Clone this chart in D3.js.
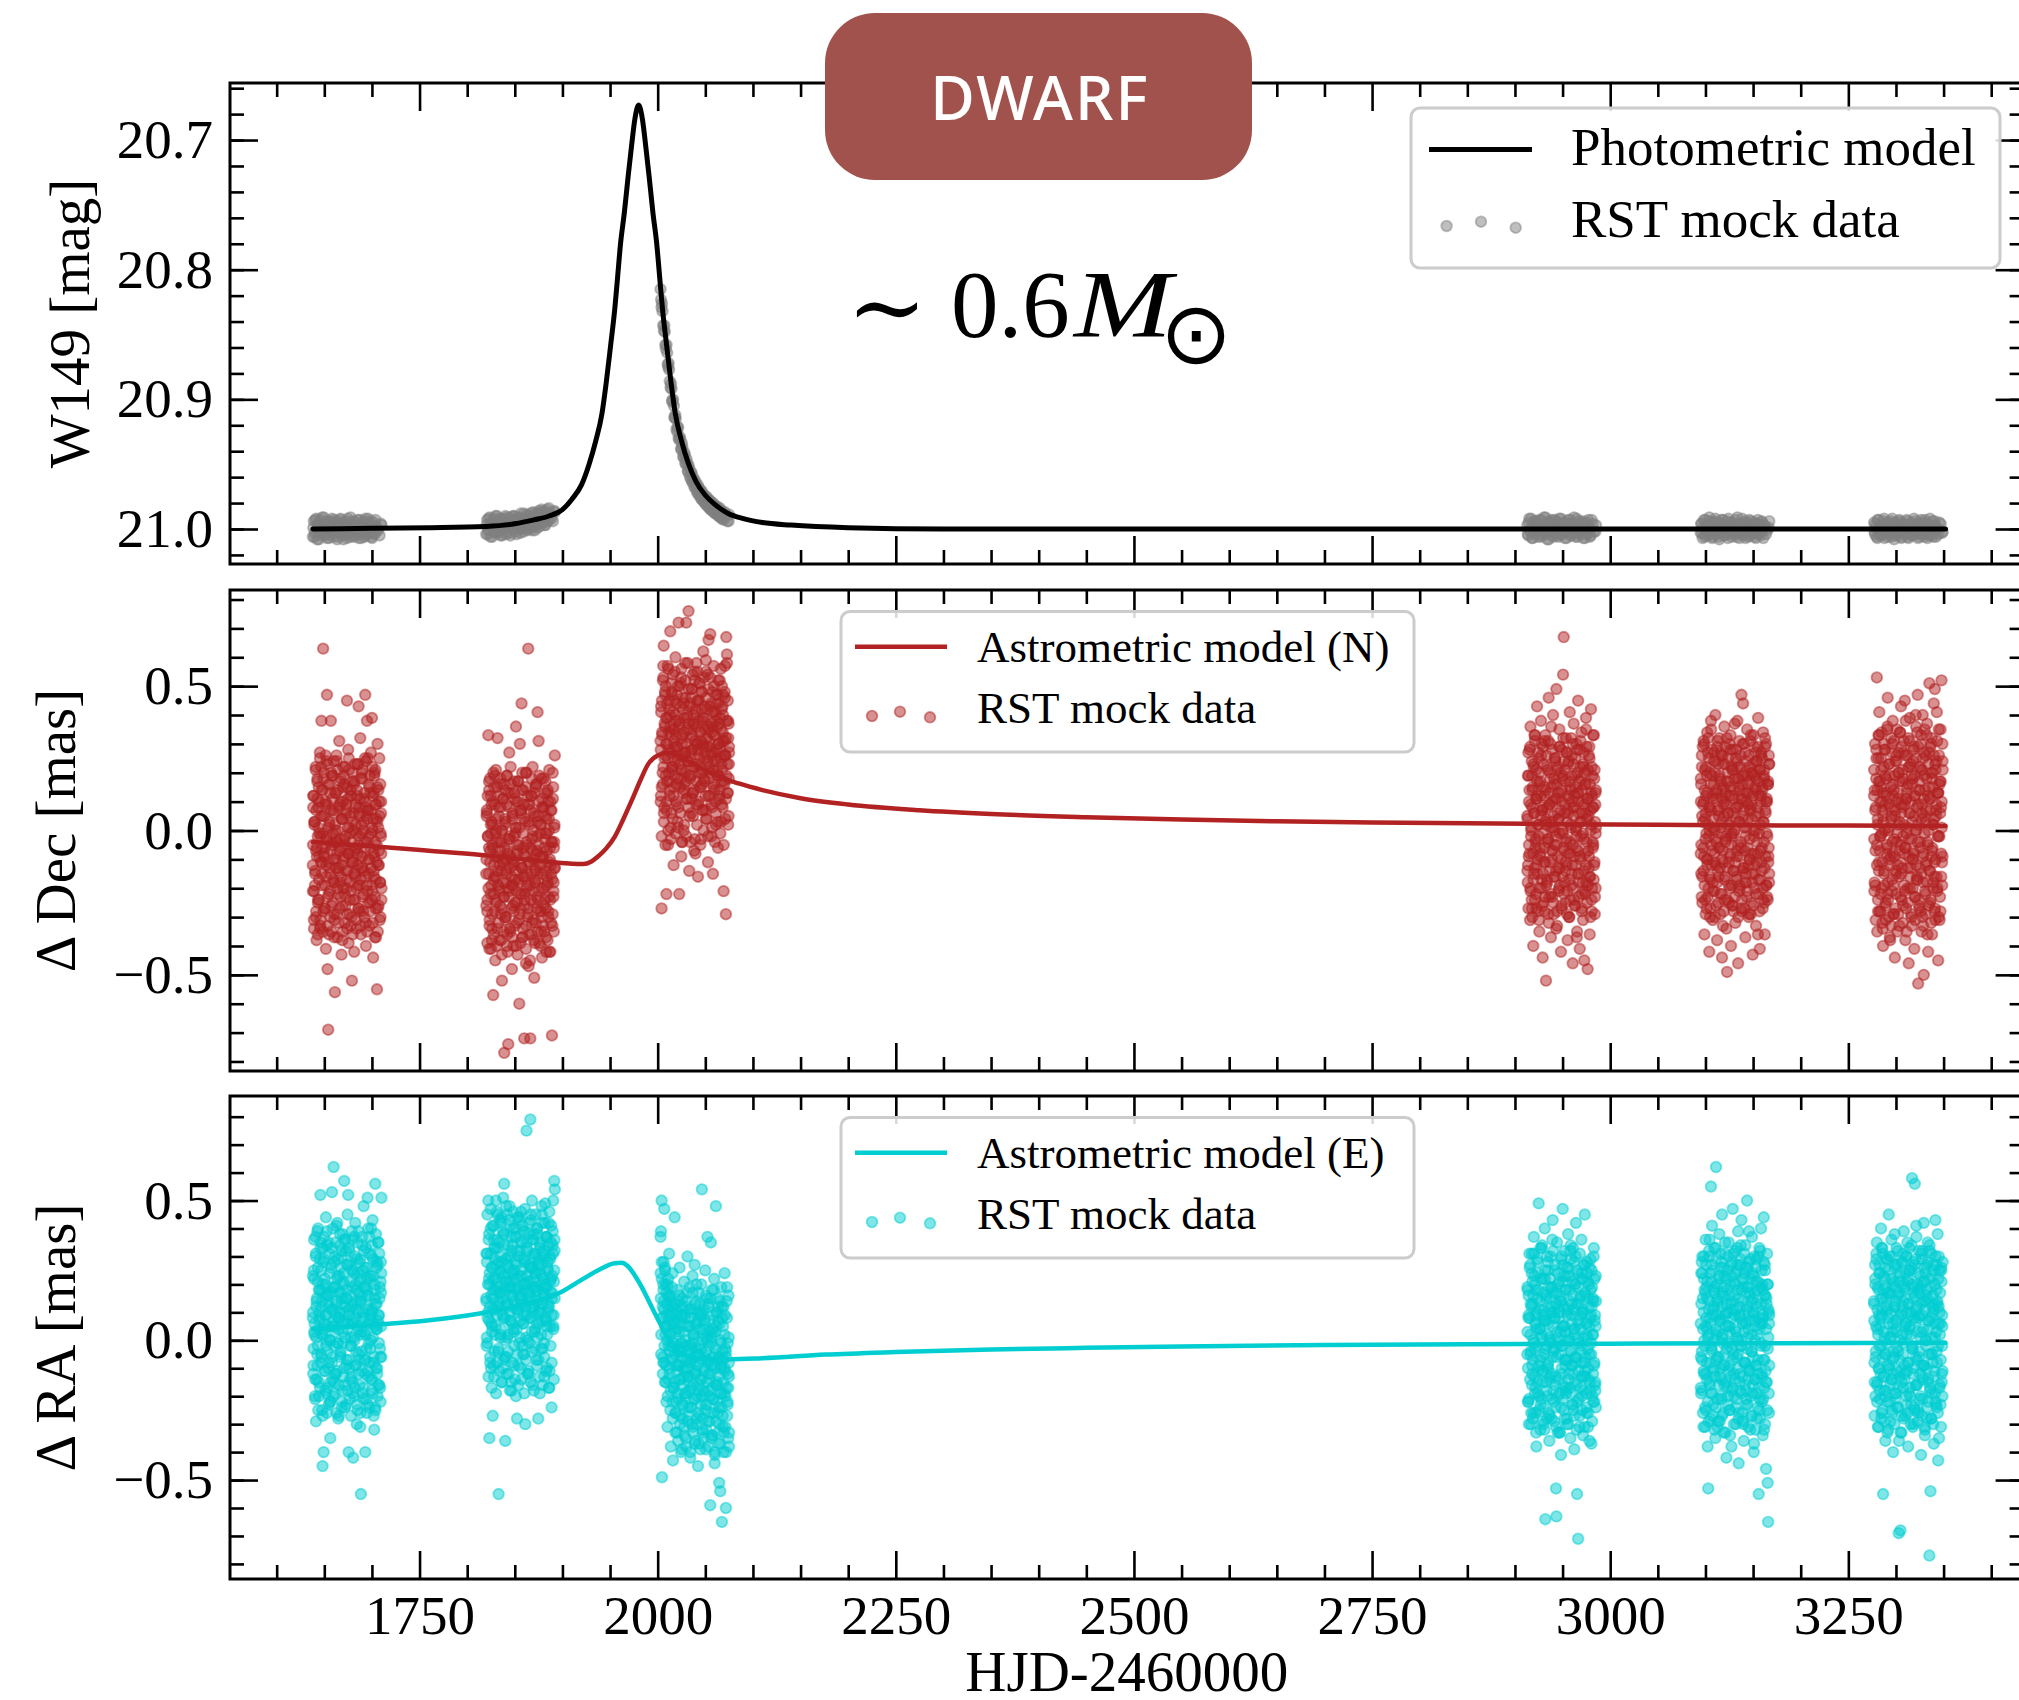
<!DOCTYPE html>
<html>
<head>
<meta charset="utf-8">
<script src="https://cdn.jsdelivr.net/npm/d3@7"></script>
<style>
  html, body { margin: 0; padding: 0; background: #fff; }
  svg { display: block; }
</style>
</head>
<body>
<svg id="chart" width="2019" height="1700"></svg>
<script>
// ---------------------------------------------------------------
// Observing seasons (HJD-2460000 at the start of each season)
// ---------------------------------------------------------------
const seasonStart = [1638, 1820, 2003, 2913, 3095, 3277];

// Epochs inside a season (days after the season start) for the astrometric series,
// three passes per season
const seasonDays = [
  0,0.4,1.1,1.5,2.2,2.9,3.3,3.9,4.6,5.1,
  5.5,6.2,6.8,7.3,7.9,8.6,9.0,9.5,10.2,10.8,
  11.3,11.9,12.6,13.0,13.7,14.3,14.8,15.4,16.1,16.5,
  17.2,17.8,18.3,18.9,19.6,20.0,20.7,21.3,21.8,22.4,
  23.1,23.5,24.2,24.8,25.3,25.9,26.6,27.0,27.7,28.3,
  28.8,29.4,30.1,30.5,31.2,31.8,32.3,32.9,33.6,34.0,
  34.7,35.3,35.8,36.4,37.1,37.5,38.2,38.8,39.3,39.9,
  40.6,41.0,41.7,42.3,42.8,43.4,44.1,44.5,45.2,45.8,
  46.3,46.9,47.6,48.0,48.7,49.3,49.8,50.4,51.1,51.5,
  52.2,52.8,53.3,53.9,54.6,55.0,55.7,56.3,56.8,57.4,
  58.1,58.5,59.2,59.8,60.3,60.9,61.6,62.0,62.7,63.3,
  63.8,64.4,65.1,65.5,66.2,66.8,67.3,67.9,68.6,69.0,
  69.7,70.3,70.8,71.4,72.0,
  0.2,0.7,1.3,1.8,2.5,3.1,3.6,4.2,4.8,5.3,
  5.9,6.5,7.0,7.6,8.2,8.8,9.3,9.8,10.5,11.0,
  11.6,12.2,12.8,13.4,14.0,14.6,15.1,15.7,16.3,16.9,
  17.5,18.1,18.6,19.2,19.8,20.4,21.0,21.6,22.1,22.7,
  23.3,23.9,24.5,25.1,25.6,26.2,26.8,27.4,28.0,28.6,
  29.1,29.7,30.3,30.9,31.5,32.1,32.6,33.2,33.8,34.4,
  35.0,35.6,36.1,36.7,37.3,37.9,38.5,39.1,39.6,40.2,
  40.8,41.4,42.0,42.6,43.1,43.7,44.3,44.9,45.5,46.1,
  46.6,47.2,47.8,48.4,49.0,49.6,50.1,50.7,51.3,51.9,
  52.5,53.1,53.6,54.2,54.8,55.4,56.0,56.6,57.1,57.7,
  58.3,58.9,59.5,60.1,60.6,61.2,61.8,62.4,63.0,63.6,
  64.1,64.7,65.3,65.9,66.5,67.1,67.6,68.2,68.8,69.4,
  70.0,70.6,71.1,71.7,71.9,
  0.1,0.6,1.2,1.7,2.4,3.0,3.5,4.1,4.7,5.2,
  5.7,6.4,6.9,7.5,8.0,8.7,9.2,9.7,10.3,10.9,
  11.5,12.0,12.7,13.2,13.8,14.5,15.0,15.6,16.2,16.7,
  17.3,18.0,18.5,19.1,19.7,20.2,20.9,21.4,22.0,22.5,
  23.2,23.7,24.3,24.9,25.5,26.0,26.7,27.2,27.8,28.4,
  29.0,29.5,30.2,30.7,31.3,32.0,32.5,33.0,33.7,34.2,
  34.8,35.5,36.0,36.5,37.2,37.7,38.3,39.0,39.5,40.0,
  40.7,41.2,41.8,42.5,43.0,43.5,44.2,44.7,45.3,46.0,
  46.5,47.0,47.7,48.2,48.8,49.5,50.0,50.5,51.2,51.7,
  52.3,53.0,53.5,54.0,54.7,55.2,55.8,56.5,57.0,57.5,
  58.2,58.7,59.3,60.0,60.5,61.0,61.7,62.2,62.8,63.5,
  64.0,64.5,65.2,65.7,66.3,67.0,67.5,68.0,68.7,69.2,
  69.8,70.5,71.0,71.5,71.8
];

// Epochs inside a season for the photometric series (two passes)
const photDays = [
  0,1,2,3.5,4.5,5.5,7,8,9,10.5,
  11.5,12.5,14,15,16,17.5,18.5,19.5,21,22,
  23,24.5,25.5,26.5,28,29,30,31.5,32.5,33.5,
  35,36,37,38.5,39.5,40.5,42,43,44,45.5,
  46.5,47.5,49,50,51,52.5,53.5,54.5,56,57,
  58,59.5,60.5,61.5,63,64,65,66.5,68.5,71.5,
  0.5,1.5,2.7,4,5,6.3,7.5,8.5,9.7,11,
  12,13.2,14.5,15.5,16.7,18,19,20.2,21.5,22.5,
  23.7,25,26,27.2,28.5,29.5,30.7,32,33,34.2,
  35.5,36.5,37.7,39,40,41.2,42.5,43.5,44.7,46,
  47,48.2,49.5,50.5,51.7,53,54,55.2,56.5,57.5,
  58.7,60,61,62.2,63.5,64.5,65.7,67.5,70,72
];

// W149 magnitudes, one array per season
const photS1 = [
  21.006,20.994,21.003,20.992,21.008,20.997,21.001,20.993,21.005,20.999,20.991,21.004,20.996,21.007,21.000,20.994,21.002,20.998,21.006,20.993,
  21.001,20.995,21.008,20.997,21.003,20.992,21.000,21.005,20.996,21.002,20.994,21.007,20.999,21.003,20.991,21.001,20.997,21.006,20.995,21.002,
  20.998,21.004,20.993,21.000,21.007,20.996,21.002,20.994,21.005,20.999,20.992,21.003,20.997,21.006,21.000,20.995,21.004,20.998,21.001,20.996,
  20.999,21.006,20.993,21.002,20.996,21.008,20.998,21.003,20.991,21.001,20.997,21.005,20.994,21.000,21.007,20.995,21.002,20.992,21.004,20.998,
  21.001,20.994,21.006,20.999,20.993,21.003,20.997,21.008,20.995,21.001,21.004,20.992,20.999,21.006,20.996,21.002,20.994,21.005,20.998,21.000,
  20.993,21.007,20.997,21.003,20.995,21.001,21.006,20.992,21.004,20.999,20.996,21.002,20.994,21.007,20.998,21.003,20.993,21.000,21.005,20.997];
const photS2 = [
  21.004,20.993,21.001,20.991,21.006,20.996,21.000,20.992,21.003,20.997,20.990,21.002,20.995,21.005,20.998,20.992,21.000,20.996,21.004,20.991,
  20.999,20.993,21.005,20.995,21.000,20.990,20.998,21.002,20.993,20.999,20.991,21.003,20.995,20.999,20.988,20.997,20.993,21.001,20.990,20.997,
  20.993,20.999,20.987,20.995,21.001,20.990,20.996,20.988,20.998,20.992,20.985,20.995,20.989,20.997,20.991,20.985,20.994,20.988,20.992,20.986,
  20.997,21.004,20.992,21.001,20.995,21.006,20.996,21.002,20.990,21.000,20.995,21.003,20.992,20.998,21.005,20.993,20.999,20.990,21.002,20.995,
  20.998,20.991,21.003,20.996,20.990,21.000,20.994,21.004,20.991,20.997,21.000,20.988,20.995,21.002,20.992,20.998,20.989,21.000,20.993,20.996,
  20.988,21.001,20.991,20.997,20.988,20.994,20.999,20.986,20.996,20.991,20.987,20.995,20.986,20.997,20.989,20.993,20.984,20.991,20.994,20.987];
const photS3 = [
  20.815,20.829,20.832,20.847,20.848,20.861,20.864,20.875,20.877,20.891,20.892,20.902,20.905,20.914,20.915,20.925,20.922,20.931,20.931,20.939,
  20.937,20.945,20.943,20.950,20.949,20.956,20.953,20.961,20.957,20.964,20.962,20.968,20.965,20.972,20.968,20.974,20.971,20.977,20.973,20.979,
  20.975,20.981,20.978,20.983,20.978,20.985,20.981,20.986,20.982,20.988,20.983,20.989,20.985,20.990,20.986,20.992,20.987,20.993,20.989,20.994,
  20.823,20.826,20.843,20.843,20.858,20.858,20.873,20.872,20.886,20.888,20.901,20.900,20.914,20.912,20.923,20.921,20.930,20.929,20.938,20.934,
  20.944,20.941,20.949,20.946,20.955,20.951,20.959,20.956,20.963,20.960,20.967,20.963,20.970,20.966,20.973,20.969,20.976,20.971,20.978,20.974,
  20.980,20.975,20.982,20.977,20.984,20.979,20.985,20.980,20.987,20.982,20.988,20.983,20.990,20.984,20.991,20.986,20.992,20.987,20.994,20.989];
const photS4 = [
  20.997,21.005,20.992,21.002,20.999,21.007,20.994,21.001,20.996,21.004,21.000,20.993,21.006,20.998,21.003,20.991,21.001,20.996,21.008,20.995,
  21.002,20.999,20.993,21.005,20.997,21.003,20.994,21.000,21.006,20.992,21.004,20.998,21.001,20.995,21.007,20.997,21.002,20.993,21.000,21.005,
  20.996,21.003,20.991,21.001,20.998,21.006,20.994,21.002,20.999,21.004,20.995,21.001,21.007,20.997,21.003,20.993,21.000,21.005,20.996,21.002,
  21.004,20.995,21.001,20.992,21.007,20.998,21.003,20.994,21.000,21.006,20.996,21.002,20.993,21.005,20.999,21.001,20.991,21.004,20.997,21.008,
  20.994,21.001,20.998,21.006,20.993,21.003,20.999,20.995,21.005,21.000,20.992,21.004,20.997,21.002,20.995,21.007,20.999,21.001,20.993,21.005,
  20.998,21.003,20.996,21.006,20.992,21.000,21.004,20.997,21.002,20.994,21.007,20.999,21.001,20.995,21.004,20.998,21.006,20.993,21.002,20.997];
const photS5 = [
  21.003,20.996,21.007,20.993,21.000,21.005,20.997,21.002,20.991,21.004,20.998,21.006,20.995,21.001,20.994,21.003,20.999,21.008,20.996,21.002,
  20.993,21.000,21.005,20.997,21.003,20.992,21.001,20.998,21.006,20.995,21.002,20.997,21.004,20.991,21.000,21.007,20.996,21.003,20.999,21.005,
  20.994,21.001,20.997,21.006,20.993,21.002,20.999,21.004,20.995,21.000,21.007,20.996,21.003,20.998,21.005,20.994,21.001,20.997,21.004,20.999,
  20.996,21.003,20.999,21.006,20.993,21.001,20.997,21.005,20.994,21.002,21.007,20.995,21.000,20.992,21.004,20.998,21.006,20.996,21.001,20.993,
  21.005,20.999,21.003,20.994,21.007,20.997,21.000,20.995,21.004,20.998,21.002,20.993,21.006,20.999,21.001,20.996,21.004,20.992,21.003,20.997,
  21.007,20.995,21.001,20.998,21.005,20.994,21.002,20.999,21.006,20.996,21.000,20.993,21.004,20.997,21.002,20.995,21.007,20.998,21.001,20.994];
const photS6 = [
  20.995,21.004,20.999,21.007,20.993,21.002,20.997,21.005,21.000,20.992,21.003,20.996,21.006,20.998,21.001,20.994,21.004,20.999,21.008,20.995,
  21.002,20.997,21.005,20.993,21.000,21.006,20.996,21.003,20.998,21.001,20.994,21.007,20.999,21.003,20.996,21.005,20.992,21.001,20.997,21.004,
  20.999,21.006,20.995,21.002,20.998,21.004,20.993,21.001,21.007,20.996,21.003,20.999,21.005,20.994,21.002,20.997,21.006,21.000,20.995,21.003,
  21.002,20.996,21.006,20.993,21.000,21.005,20.998,21.003,20.994,21.007,20.997,21.001,20.995,21.004,20.999,21.006,20.992,21.002,20.996,21.005,
  20.998,21.003,20.994,21.000,21.007,20.995,21.002,20.999,21.004,20.993,21.006,20.997,21.001,20.995,21.005,20.998,21.003,20.994,21.000,21.007,
  20.996,21.002,20.993,21.004,20.999,21.006,20.995,21.001,20.997,21.005,20.992,21.003,20.998,21.006,20.994,21.001,20.999,21.004,20.996,21.002];

// Delta Dec [mas], one array per season (three passes)
const decS1 = [
  -.12,.08,-.31,.02,-.19,.21,-.07,-.38,.11,-.02,-.24,.15,-.09,.27,-.33,.05,.38,-.15,-.01,.63,
  .18,-.27,-.06,.09,-.41,.24,.47,-.48,-.69,-.11,.03,-.21,.13,.38,-.35,-.04,.19,-.17,.07,-.29,
  -.56,.00,-.13,.26,-.08,-.37,.14,-.22,.31,-.03,-.18,.10,-.43,.04,-.26,.22,-.10,.16,-.32,-.05,
  .09,-.20,.45,-.14,.28,-.39,.01,-.24,.12,-.07,-.30,-.52,.17,-.11,.06,-.42,.23,-.16,.02,-.34,
  .14,-.08,-.27,.43,.08,-.19,.32,-.36,-.01,.20,-.13,-.28,.11,-.04,.25,.47,-.40,.05,.38,-.21,
  .07,-.15,-.33,.19,-.06,.27,-.24,.39,.00,-.44,.13,-.09,-.37,.21,-.17,.04,-.55,.30,-.12,-.26,
  .10,-.31,.16,-.02,-.20,
  -.05,.12,-.21,.03,-.14,-.30,.07,-.09,.18,-.25,.01,-.17,.10,-.34,-.02,.22,-.11,-.06,.14,-.28,
  -.08,.05,-.19,.26,-.12,-.03,.09,-.23,.16,-.36,.02,-.15,-.07,.20,-.26,.11,-.01,-.18,.06,-.31,
  .13,-.10,-.04,.24,-.20,.00,-.13,.08,-.27,.17,-.06,-.16,.04,-.38,.10,-.09,.19,-.22,-.02,.07,
  -.14,.15,-.29,.01,-.08,.21,-.18,.05,-.33,-.04,.12,-.11,.03,-.24,.16,-.07,-.15,.09,-.01,-.20,
  .23,-.12,-.05,.06,-.28,.11,-.17,.02,-.09,.18,-.23,.00,-.14,.13,-.06,-.32,.08,-.19,.04,.25,
  -.10,-.02,.15,-.25,.07,-.13,.01,-.21,.12,-.08,-.16,.20,-.04,-.27,.09,-.11,.03,-.35,.14,-.07,
  .05,-.18,-.01,.10,-.24,
  -.21,.12,-.34,.03,-.15,.22,-.28,-.06,.17,-.36,.08,-.24,-.01,.25,-.31,-.11,.14,-.19,.05,-.35,
  .20,-.09,-.27,.10,-.16,-.02,.23,-.33,.01,-.22,.16,-.13,-.30,.07,-.05,.19,-.25,-.10,.24,-.37,
  .02,-.18,.13,-.29,-.04,.21,-.14,-.32,.09,-.07,-.23,.18,-.12,.04,-.35,.15,-.20,-.03,.22,-.26,
  .06,-.17,-.34,.11,-.08,.25,-.29,-.01,.14,-.21,-.11,.20,-.36,.00,-.15,.17,-.24,.08,-.31,-.06,
  .12,-.19,.23,-.27,-.02,.05,-.33,.18,-.13,-.09,.21,-.22,.03,-.30,.10,-.16,.24,-.04,-.35,.07,
  -.25,.16,-.10,-.28,.13,-.01,-.19,.22,-.32,.04,-.14,.19,-.23,.09,-.37,-.05,.15,-.27,.01,-.12,
  .25,-.18,-.30,.06,-.08
];
const decS2 = [
  -.15,.05,-.28,.12,.33,-.06,-.41,.18,-.22,-.01,.09,-.34,.02,-.57,-.17,.15,-.09,-.45,.21,-.25,
  -.04,.32,-.19,.08,-.38,-.12,.16,-.29,.00,-.52,-.10,.11,-.23,-.77,.04,-.31,-.14,.19,-.40,-.07,
  -.74,-.20,.27,-.02,-.35,.13,-.16,-.48,.06,-.26,-.11,.17,-.33,.01,.36,-.21,-.05,-.43,.10,-.18,
  -.60,.30,-.27,.07,.44,-.13,-.37,.14,-.08,-.72,-.22,.03,-.46,.20,-.15,-.30,.63,-.47,.09,-.19,
  -.72,.12,-.36,-.03,.22,-.25,-.10,-.51,.05,-.17,-.32,.16,-.07,.41,-.24,.31,-.39,.02,-.13,-.28,
  .18,-.44,-.09,.08,-.20,-.35,.13,-.01,-.27,.04,-.16,-.38,.10,-.23,.21,-.06,-.42,-.12,.07,-.71,
  -.29,.15,-.18,-.04,.26,
  -.10,.06,-.24,-.02,-.15,.14,-.31,-.07,.02,-.19,-.38,-.05,.10,-.22,-.12,.19,-.28,-.01,-.16,.04,
  -.34,-.09,.12,-.20,-.04,-.26,.08,-.14,-.43,.00,-.11,.16,-.23,-.06,-.30,.03,-.18,.09,-.36,-.08,
  .13,-.21,-.03,-.13,.22,-.27,-.10,.05,-.19,-.40,-.02,.11,-.25,-.14,.01,-.32,-.07,.17,-.17,-.05,
  -.29,.07,-.12,-.22,.14,-.37,-.01,-.16,.04,-.24,-.09,.20,-.33,-.04,-.19,.09,-.27,-.11,.02,-.45,
  -.06,-.15,.12,-.21,-.02,-.31,.06,-.13,-.39,.15,-.08,-.23,.03,-.17,-.05,.10,-.28,-.12,-.01,-.35,
  .08,-.20,-.09,.18,-.26,-.03,-.14,.05,-.42,-.07,.13,-.18,-.30,.00,-.11,-.24,.07,-.15,-.04,-.33,
  .11,-.21,-.06,.02,-.13,
  -.26,.07,-.39,-.02,-.20,.17,-.33,-.11,.12,-.41,.03,-.29,-.06,.20,-.36,-.16,.09,-.24,.00,-.40,
  .15,-.14,-.32,.05,-.21,-.07,.18,-.38,-.04,-.27,.11,-.18,-.35,.02,-.10,.14,-.30,-.15,.19,-.42,
  -.03,-.23,.08,-.34,-.09,.16,-.19,-.37,.04,-.12,-.28,.13,-.17,-.01,-.40,.10,-.25,-.08,.17,-.31,
  .01,-.22,-.39,.06,-.13,.20,-.34,-.06,.09,-.26,-.16,.15,-.41,-.05,-.20,.12,-.29,.03,-.36,-.11,
  .07,-.24,.18,-.32,-.07,.00,-.38,.13,-.18,-.14,.16,-.27,-.02,-.35,.05,-.21,.19,-.09,-.40,.02,
  -.30,.11,-.15,-.33,.08,-.06,-.24,.17,-.37,-.01,-.19,.14,-.28,.04,-.42,-.10,.10,-.32,-.04,-.17,
  .20,-.23,-.35,.01,-.13
];
const decS3 = [
  .31,.12,-.27,.45,.20,.57,.64,.08,.36,.26,.50,-.22,.17,.39,-.05,.28,.42,.14,.69,.33,
  .06,.47,.22,.54,-.12,.35,.19,.40,.10,.29,.44,.03,.25,.72,-.22,.37,.15,.51,-.09,.30,
  .21,.46,.00,.34,.16,.58,.27,.72,.11,.39,.24,.76,-.14,.43,.18,.32,.06,.49,.28,.13,
  .37,-.07,.52,.22,.41,.09,.30,.55,-.16,.26,.45,.15,.34,-.03,.48,.20,.38,.07,.29,.53,
  .17,.35,.59,.04,.42,.24,-.11,.66,.31,.12,.68,.27,.44,.08,.36,-.15,.21,.50,.14,.33,
  .02,.40,.25,.47,-.06,.19,.37,.11,.29,.56,.23,.09,.43,.31,-.21,.16,.48,.26,-.29,.67,
  .61,.13,.38,.05,.27,
  .28,.41,.15,.33,.52,.22,.06,.37,.47,.19,.30,.10,.44,.25,.56,.34,.17,.40,.01,.27,
  .48,.21,.35,.12,.31,.45,.24,.60,.38,.16,.29,.50,.08,.36,.23,.43,.18,.53,.32,-.04,
  .26,.42,.14,.39,.20,.46,.30,.11,.35,.58,.24,.37,.05,.44,.27,.19,.49,.33,.13,.40,
  .22,.55,.31,-.08,.36,.17,.45,.28,.09,.38,.51,.25,.34,.15,.42,.21,.30,.62,.18,.39,
  .27,.07,.46,.32,.23,.54,.12,.35,.29,.43,.20,.37,-.02,.26,.48,.16,.33,.41,.24,.10,
  .44,.28,.36,.19,.52,.30,.14,.39,.25,.03,.42,.21,.34,.47,.17,.31,.57,.26,.11,.38,
  .23,.45,.32,.18,.29,
  .10,.43,-.02,.34,.16,.53,.03,.25,.48,-.05,.39,.07,.30,.57,.00,.20,.45,.12,.36,-.03,
  .51,.22,.04,.41,.15,.29,.55,-.01,.33,.09,.47,.18,.01,.38,.26,.50,.06,.21,.56,-.04,
  .33,.13,.44,.02,.27,.52,.17,-.02,.40,.24,.08,.49,.19,.35,-.04,.46,.11,.28,.54,.05,
  .37,.14,-.03,.42,.23,.58,.02,.30,.45,.10,.20,.51,-.05,.31,.16,.48,.07,.39,.00,.25,
  .43,.12,.55,.04,.29,.36,-.02,.49,.18,.22,.53,.09,.34,.01,.41,.15,.57,.27,-.04,.38,
  .06,.47,.21,.03,.44,.30,.12,.52,-.01,.35,.17,.50,.08,.40,-.05,.26,.46,.04,.32,.19,
  .58,.13,.02,.37,.23
];
const decS4 = [
  .05,-.18,.27,-.09,.14,-.31,.36,-.02,-.24,.19,.08,-.40,.22,-.13,.31,-.06,.11,-.27,.43,-.15,
  .02,.25,-.35,.16,-.08,.38,-.20,.07,-.44,.29,-.11,.12,-.28,.33,-.52,.04,-.17,.21,-.03,.46,
  -.23,.09,.30,-.37,.15,-.10,.01,.40,-.29,.18,-.05,.24,-.14,.49,-.33,.06,.13,-.21,.35,-.01,
  .20,-.42,.10,.28,-.16,.54,.67,-.07,.17,-.25,.32,-.12,.03,-.38,.23,.11,-.30,.41,-.04,.14,
  -.19,.26,-.46,.08,.37,-.09,.19,-.26,.00,.30,-.35,.13,.45,-.15,.06,-.41,.22,-.02,.34,-.22,
  .10,-.31,.27,-.45,.16,-.08,.39,-.18,.04,-.48,.21,-.13,.29,-.36,.07,.42,-.24,.12,-.04,.33,
  -.17,.18,-.29,.09,.01,
  .04,-.12,.19,-.05,.28,-.20,.09,.00,-.27,.14,-.08,.23,-.15,.06,.33,-.03,-.22,.11,.17,-.10,
  .02,-.31,.20,-.06,.12,.26,-.17,.07,-.01,-.25,.15,.31,-.11,.03,-.19,.22,.08,-.04,-.29,.13,
  -.14,.18,.01,.36,-.07,-.23,.10,.05,-.16,.25,.11,-.02,-.34,.16,.21,-.09,.04,-.20,.29,-.13,
  .07,-.26,.14,.00,.19,-.06,.24,-.18,.09,-.11,-.03,.27,-.21,.12,.06,-.30,.17,-.08,.02,.32,
  -.15,.10,-.05,.23,-.24,.08,.15,-.12,.01,-.37,.20,-.07,.13,-.18,.28,.03,-.10,.18,-.27,.06,
  -.01,.22,-.14,.09,-.22,.16,.35,-.04,.11,-.19,.05,-.09,.25,-.16,.00,.13,-.28,.19,-.06,.08,
  -.12,.21,.03,-.20,.14,
  -.14,.19,-.27,.10,-.08,.29,-.21,.01,.24,-.30,.15,-.17,.06,.33,-.24,-.04,.21,-.12,.12,-.28,
  .27,-.02,-.20,.17,-.09,.05,.30,-.26,.08,-.15,.23,-.06,-.23,.14,.02,.26,-.18,-.03,.31,-.32,
  .09,-.11,.20,-.22,.03,.28,-.07,-.25,.16,.00,-.16,.25,-.05,.11,-.28,.22,-.13,.04,.29,-.19,
  .13,-.10,-.27,.18,-.01,.32,-.22,.06,.21,-.14,-.04,.27,-.29,.07,-.08,.24,-.17,.15,-.24,.01,
  .19,-.12,.30,-.20,.05,.12,-.26,.25,-.06,-.02,.28,-.15,.10,-.23,.17,-.09,.31,.03,-.28,.14,
  -.18,.23,-.03,-.21,.20,.06,-.12,.29,-.25,.11,-.07,.26,-.16,.16,-.30,.02,.22,-.20,.08,-.05,
  .33,-.11,-.23,.13,-.01
];
const decS5 = [
  -.08,.16,-.23,.05,.29,-.14,.10,-.36,.21,-.03,.12,-.27,.34,-.10,.02,.25,-.42,.08,-.17,.38,
  -.05,.19,-.31,.11,.27,-.21,.00,.40,-.12,.14,-.38,.07,.23,-.16,.32,-.06,-.29,.17,.03,-.44,
  .26,-.11,.09,.36,-.24,.13,-.02,-.34,-.49,.20,.06,-.19,.30,-.09,.15,-.40,.22,-.01,.28,-.26,
  -.14,.11,.37,-.32,.04,.24,-.07,.18,-.46,.09,.31,-.20,.14,-.04,.47,-.28,.19,.44,-.13,.01,
  .27,-.37,.10,-.18,.35,-.06,.16,-.30,.22,-.10,.08,.33,-.25,.13,-.43,.20,-.02,.29,-.15,.05,
  -.33,.18,.24,-.08,.39,-.22,.12,-.41,.02,.26,-.11,.15,-.27,.34,-.04,.21,-.36,.07,.30,-.19,
  .10,-.24,.17,-.06,.23,
  .10,-.05,.22,-.16,.03,.31,-.09,.14,-.24,.06,-.01,.19,-.12,.27,-.20,.08,.00,-.30,.16,.35,
  -.07,.12,-.18,.04,.24,-.11,.20,-.03,-.26,.13,.29,-.14,.07,-.06,.18,-.22,.01,.26,-.10,.11,
  -.33,.15,.05,-.17,.23,-.04,.09,.32,-.13,.02,.17,-.25,.12,-.08,.28,-.02,-.19,.21,.06,-.28,
  .14,.00,-.11,.25,-.16,.08,.38,-.05,.18,-.21,.03,-.09,.22,-.27,.11,.16,-.14,.05,.30,-.07,
  -.18,.13,.01,-.23,.19,.09,-.12,.26,-.03,.07,-.29,.20,.04,-.15,.12,.33,-.08,-.20,.15,.00,
  .24,-.11,.08,-.36,.17,-.01,.21,-.17,.10,.27,-.06,.14,-.24,.03,.19,-.13,.29,.06,-.19,.11,
  -.02,.16,-.09,.23,-.15,
  .18,-.15,.26,-.25,.09,-.06,.30,-.19,.04,-.29,.22,-.10,.13,-.23,.32,-.02,-.16,.20,-.27,.07,
  -.12,.28,-.21,.01,.16,-.08,-.30,.24,-.04,.11,-.18,.31,-.25,.05,.19,-.13,.27,-.01,-.22,.14,
  -.07,.23,-.28,.10,-.16,.29,-.03,.17,-.24,.06,.25,-.11,.02,-.20,.33,-.05,.12,-.26,.21,-.14,
  -.01,.18,-.23,.08,.28,-.17,-.09,.22,-.30,.15,.03,-.19,.26,-.06,.11,-.24,.30,-.13,.07,-.27,
  .20,-.02,-.15,.24,-.21,.13,.04,-.29,.17,-.10,.31,-.08,.09,-.18,.23,-.26,.00,.19,-.12,.27,
  -.22,.14,-.04,.29,-.17,.06,-.28,.21,-.07,.12,-.14,.25,-.20,.03,.18,-.25,.32,-.09,.10,-.01,
  -.23,.16,-.11,.26,-.18
];
const decS6 = [
  .12,-.21,.30,-.07,.18,.53,-.35,.04,.25,-.14,.41,-.02,-.28,.15,.34,-.11,.07,-.40,.22,-.19,
  .00,.28,-.31,.13,-.06,.46,-.24,.09,.19,-.37,-.09,.32,.05,-.17,.38,-.29,.14,-.03,-.44,.24,
  .10,-.22,.35,-.12,.02,.27,-.33,.17,-.05,.43,-.15,.08,.21,-.26,.31,-.08,.45,-.38,.11,-.01,
  .26,-.20,.16,-.46,.06,.39,-.13,.23,-.30,.03,.18,-.10,.29,-.41,.12,-.23,.36,.00,-.16,.47,
  -.53,.14,-.27,.22,-.06,.33,-.35,.09,.40,-.18,-.50,.19,.05,-.29,.26,-.12,.37,-.04,-.42,.15,
  .51,-.25,.11,.30,-.09,-.36,.20,.02,.44,-.16,.49,-.31,.07,.24,-.21,.13,-.45,.35,-.02,.17,
  -.28,.08,.52,-.11,.21,
  -.03,.14,-.19,.08,.25,-.12,.02,-.28,.17,.33,-.07,.10,-.22,.21,-.01,-.32,.13,.05,-.15,.28,
  .09,-.25,.18,-.05,.36,-.18,.00,.23,-.10,-.38,.15,.04,-.21,.30,-.08,.12,-.29,.19,.07,-.14,
  .26,-.04,-.35,.11,.20,-.16,.03,.34,-.11,.06,-.24,.17,-.02,.27,-.19,.09,-.06,.38,-.27,.13,
  .01,-.13,.22,-.09,.31,-.20,.10,-.03,-.33,.16,.24,-.07,.05,-.23,.19,.40,-.12,.08,-.17,.02,
  .29,-.26,.14,-.04,.21,-.15,.06,-.30,.25,-.08,.11,.35,-.21,.03,-.11,.18,-.36,.12,.00,.27,
  -.14,.07,-.24,.20,.32,-.06,.15,-.18,.04,-.28,.23,-.10,.09,.41,-.20,.13,-.02,.26,-.31,.06,
  .17,-.16,.01,.30,-.09,
  .21,-.18,.07,-.31,.28,-.05,.14,-.24,.33,-.11,-.28,.17,-.02,.25,-.20,.10,-.34,.03,.30,-.14,
  .19,-.26,.12,-.08,.35,-.22,.01,-.30,.23,-.12,.08,-.33,.27,-.04,.16,-.19,.31,-.09,.05,-.27,
  -.15,.24,-.01,.13,-.29,.20,-.07,.34,-.23,.09,.29,-.13,-.32,.18,.02,-.21,.26,-.06,.11,-.35,
  .15,-.25,.32,-.03,.22,-.16,.06,-.29,.19,-.10,-.20,.28,-.08,.12,-.31,.00,.25,-.17,.34,-.04,
  .09,-.24,.17,-.13,.30,-.28,.04,.21,-.09,-.33,.27,-.01,.14,-.22,.07,.33,-.18,-.05,.23,-.26,
  .11,-.14,.29,-.32,.18,-.07,.02,-.20,.26,-.11,-.27,.21,.05,-.16,.31,-.02,.13,-.30,.16,-.23,
  .35,-.08,.10,-.19,.24
];

// Delta RA [mas], one array per season (three passes)
const raS1 = [
  .08,-.12,.25,.03,-.20,.37,-.29,.14,-.05,.21,.40,-.15,.10,.29,.52,-.08,.18,.02,-.45,.33,
  -.40,.06,.22,-.18,.44,.00,-.26,.16,.35,-.10,.12,-.22,-.35,.27,.05,.53,-.14,.19,.62,-.02,
  .30,-.19,.09,.41,-.11,.23,-.28,.04,.17,.34,-.06,.26,.13,-.24,.38,-.01,.20,.57,-.16,.07,
  .32,-.09,.15,.45,.52,-.40,.11,-.21,.28,.01,-.13,.36,.19,-.42,.06,.24,-.17,.42,-.04,.14,
  .29,-.25,.10,.39,-.07,.21,-.31,-.55,.16,.03,-.19,.25,.48,.08,-.12,-.40,.33,-.03,.18,.51,
  -.23,.11,.37,-.08,.22,.00,.30,-.14,.43,.06,-.27,-.32,.15,.56,-.10,.26,.04,-.20,.35,.09,
  -.16,.19,-.06,.28,.51,
  .10,-.03,.22,.06,-.14,.31,.01,.15,-.09,.26,.04,-.20,.18,.08,.35,-.05,.12,-.25,.20,.02,
  .29,-.11,.09,.16,-.02,.39,-.17,.13,.05,-.08,.24,.00,-.22,.17,.33,-.06,.11,.07,-.15,.28,
  .03,.19,-.12,.14,.42,-.01,.08,-.27,.23,.10,-.04,.30,.15,-.18,.06,.21,-.10,.36,.01,.12,
  -.23,.18,.04,.27,-.07,.09,.32,-.14,.16,-.02,.25,.07,-.19,.13,.37,.00,-.09,.20,.11,-.30,
  .05,.24,-.05,.17,-.16,.29,.02,.14,-.11,.34,.08,-.21,.19,.03,.26,-.07,.12,-.26,.22,.06,
  -.13,.16,.31,-.03,.09,.40,-.18,.10,.01,.23,-.08,.18,-.24,.13,.04,.28,-.12,.07,.35,-.01,
  .15,-.17,.21,.05,-.06,
  .23,-.09,.36,.02,-.21,.30,.12,-.14,.39,-.02,-.25,.18,.07,-.17,.33,.25,-.06,.14,-.27,.28,
  .04,.37,-.11,.20,-.19,.09,.34,-.04,.16,-.23,.31,.00,-.15,.26,.11,-.08,.40,-.20,.19,.05,
  -.12,.35,.13,-.26,.22,-.01,.29,-.16,.08,.38,-.05,.17,-.22,.32,.03,-.13,.24,.10,-.24,.36,
  .15,-.07,.27,-.18,.06,.33,-.10,.21,-.02,-.27,.39,.12,-.15,.25,.01,-.20,.30,.08,-.09,.18,
  -.23,.35,.04,-.12,.28,.14,-.26,.22,-.04,.37,.10,-.17,.32,-.07,.19,.02,-.21,.26,.16,-.11,
  .40,-.01,-.24,.23,.07,-.14,.34,.11,-.19,.29,-.06,.20,.05,-.25,.38,.13,-.10,.27,-.16,.09,
  .31,-.03,-.22,.17,.24
];
const raS2 = [
  .15,-.02,.31,.08,.50,.22,-.35,.12,.40,-.10,.26,.05,-.27,.18,.36,-.04,.29,.11,.50,.20,
  -.08,.33,.14,-.55,.24,.43,.02,.17,-.15,.28,.09,.51,.38,.56,-.06,-.36,.21,.13,.45,.01,
  .30,-.12,.19,.07,.41,.25,-.18,.16,.34,.04,.22,-.09,.37,.12,-.20,.27,-.28,.44,.10,.19,
  -.01,.32,.15,.46,-.14,.23,.06,.39,.18,-.05,.28,-.30,.13,.75,.35,.00,.21,-.11,.42,.17,
  .79,.08,.26,.50,-.16,.31,.12,.38,.03,.24,.19,-.07,.40,.14,-.28,.29,.06,-.19,.35,.10,
  .23,.45,-.03,.17,.32,-.13,.20,.49,.07,.37,-.10,.26,.11,.42,-.17,.30,.05,.22,-.24,.15,
  .34,.50,.09,.57,.54,
  .14,.28,-.01,.20,.36,.07,.24,-.08,.31,.16,.03,.41,.11,.22,-.13,.33,.18,.05,.27,.46,
  .09,.19,-.04,.35,.13,.25,.01,.30,.44,.15,-.10,.23,.38,.08,.17,.29,-.06,.21,.12,.34,
  .02,.26,.48,.10,.19,-.15,.32,.06,.24,.40,.14,-.02,.28,.18,.37,.04,.22,.11,-.09,.30,
  .16,.43,.07,.25,.13,.35,-.05,.20,.09,.29,.39,.12,.01,.23,.17,.32,-.12,.27,.08,.21,
  .45,.15,.03,.26,.36,.10,.19,-.03,.31,.14,.24,.06,.38,.18,-.07,.28,.11,.33,.20,.02,
  .27,.42,.13,.22,-.01,.16,.30,.08,.37,.19,.05,.25,.34,.12,-.11,.29,.17,.41,.09,.23,
  .31,.04,.21,.36,.15,
  .31,.01,.45,.10,-.13,.38,.20,-.06,.47,.06,-.17,.26,.15,-.09,.41,.33,.02,.22,-.19,.36,
  .12,.45,-.03,.28,-.11,.17,.42,.04,.24,-.15,.39,.08,-.07,.34,.19,.00,.48,-.12,.27,.13,
  -.04,.43,.21,-.18,.30,.07,.37,-.08,.16,.46,.03,.25,-.14,.40,.11,-.05,.32,.18,-.16,.44,
  .23,.01,.35,-.10,.14,.41,-.02,.29,.06,-.19,.47,.20,-.07,.33,.09,-.12,.38,.16,-.01,.26,
  -.15,.43,.12,-.04,.36,.22,-.18,.30,.04,.45,.18,-.09,.40,.01,.27,.10,-.13,.34,.24,-.03,
  .48,.07,-.16,.31,.15,-.06,.42,.19,-.11,.37,.02,.28,.13,-.17,.46,.21,-.02,.35,-.08,.17,
  .39,.05,-.14,.25,.32
];
const raS3 = [
  .37,.39,.50,-.49,.12,-.08,.28,.47,-.15,.05,.20,-.22,.09,-.31,.16,-.02,.31,-.12,.02,-.38,
  .14,-.06,.24,-.43,-.17,.07,.44,-.26,.11,-.09,-.33,.18,-.04,-.21,.03,.26,-.14,-.40,.08,-.01,
  .15,-.28,-.10,.21,-.19,.00,-.35,.12,-.07,.30,-.24,.05,-.13,.19,-.42,-.03,.10,-.30,.23,-.16,
  .02,-.08,.27,-.36,-.11,.14,-.20,.06,-.45,.17,-.02,-.27,.09,-.14,.20,.54,-.33,.04,-.18,.11,
  -.06,.25,-.39,.01,-.23,.37,.13,-.12,-.29,.07,-.59,.35,-.09,.18,-.34,.03,-.21,.22,-.44,-.05,
  .48,-.16,.10,-.26,.15,-.37,-.51,.06,-.54,-.10,.19,-.65,-.07,-.31,.12,-.19,.24,-.03,-.60,-.40,
  .08,-.22,-.12,.16,-.33,
  .15,.02,.22,.08,-.06,.18,.11,-.02,.25,.05,-.09,.13,.00,.20,-.14,.07,-.04,.16,-.18,.03,
  -.07,.10,-.22,-.01,.12,-.15,-.05,.06,-.26,-.11,.04,-.19,-.03,.14,-.09,-.30,-.01,-.16,.09,-.23,
  -.06,.03,-.13,-.34,.08,-.20,-.02,-.10,.17,-.27,-.04,-.15,.05,-.08,-.24,.11,-.17,-.01,-.31,-.06,
  .02,-.21,-.12,.13,-.03,-.28,-.09,.07,-.18,-.37,-.05,.04,-.14,-.23,.10,-.07,-.32,.00,-.11,-.19,
  .06,-.25,-.04,-.15,.15,-.08,-.29,-.02,-.20,.03,-.12,-.35,.01,-.17,-.06,.09,-.26,-.10,-.41,-.03,
  .05,-.16,-.22,-.07,.12,-.13,-.30,.00,-.19,-.09,-.24,.08,-.04,-.15,-.33,.02,-.11,-.20,-.06,.14,
  -.27,-.01,-.17,-.08,-.38,
  .24,-.05,.28,.08,-.12,.20,.14,-.08,.26,.02,-.15,.17,.05,-.20,.22,.11,-.10,.15,-.25,.09,
  -.02,.19,-.28,.06,-.17,-.01,.13,-.33,.03,-.22,.10,-.09,-.36,.07,-.14,.16,-.27,-.04,.12,-.39,
  -.06,-.23,.09,-.31,-.11,.14,-.19,-.38,.05,-.13,-.29,.11,-.18,-.02,-.40,.08,-.24,-.07,.17,-.33,
  .01,-.21,-.37,.06,-.12,.20,-.30,-.05,.10,-.26,-.16,.13,-.39,-.03,-.20,.09,-.28,.02,-.35,-.10,
  .07,-.23,.16,-.32,-.07,.00,-.38,.12,-.18,-.14,.15,-.26,-.01,-.34,.04,-.21,.18,-.09,-.40,.03,
  -.29,.10,-.15,-.33,.07,-.06,-.24,.14,-.37,-.01,-.19,.12,-.27,.05,-.40,-.10,.09,-.31,-.04,-.17,
  .19,-.23,-.35,.01,-.13
];
const raS4 = [
  -.05,.18,-.22,.09,.31,-.14,.02,-.30,.24,-.09,.13,-.26,.37,-.03,.20,-.17,.06,-.38,.15,.28,
  -.11,.49,-.20,.04,-.32,.22,-.06,.34,-.15,.11,-.24,.07,.40,-.64,.16,-.02,-.28,.25,-.10,.19,
  -.36,.01,.30,-.13,.10,-.21,.43,-.04,.17,-.29,.08,-.16,-.53,-.63,.35,-.33,.12,-.01,.21,-.19,
  .03,-.41,.14,-.12,.47,.27,-.25,.05,.32,-.07,-.18,.23,-.30,.10,.38,-.14,.00,.18,-.35,.29,
  -.09,.13,-.23,.33,.04,-.39,.20,-.06,.42,-.16,-.55,.24,-.71,-.11,.09,-.27,.16,-.02,.36,-.20,
  .11,-.34,.22,-.08,.45,-.13,.06,-.24,.28,.01,-.31,.15,-.05,.26,-.18,.09,-.37,.19,.02,-.12,
  .30,-.22,.07,-.15,.14,
  .03,-.10,.16,-.21,.08,.27,-.04,.12,-.16,.21,-.07,.00,.31,-.13,.06,-.26,.18,.10,-.02,-.19,
  .24,-.09,.04,.14,-.23,.01,.33,-.11,.09,-.30,.17,-.05,.22,-.15,.07,.02,-.20,.28,-.08,.11,
  -.27,.15,-.01,.19,-.12,.36,.05,-.18,.10,-.03,.25,-.24,.13,-.06,.01,.20,-.14,.08,-.33,.16,
  -.02,.29,-.10,.05,-.21,.12,.23,-.07,.03,-.17,.18,-.28,.09,.00,.26,-.12,.14,-.04,.34,-.19,
  .06,-.09,.21,-.25,.11,.02,-.15,.30,-.06,.13,-.22,.07,.19,-.01,-.31,.15,.04,-.13,.24,-.08,
  .10,-.18,.01,.27,-.11,.16,-.26,.06,.21,-.03,-.14,.12,-.36,.08,.18,-.05,.25,-.20,.02,.14,
  -.09,.22,-.16,.05,-.24,
  .19,-.22,.08,-.30,.26,-.05,.13,-.26,.31,-.12,-.28,.16,-.01,.23,-.19,.09,-.33,.04,.29,-.15,
  .18,-.25,.11,-.07,.33,-.21,.02,-.29,.22,-.11,.07,-.32,.25,-.03,.15,-.18,.30,-.09,.06,-.26,
  -.14,.22,.00,.12,-.28,.19,-.06,.32,-.22,.08,.27,-.13,-.31,.17,.03,-.20,.24,-.05,.10,-.33,
  .14,-.24,.30,-.02,.21,-.16,.05,-.28,.18,-.09,-.19,.26,-.07,.11,-.30,.01,.23,-.17,.32,-.04,
  .09,-.23,.16,-.12,.28,-.27,.04,.20,-.08,-.32,.25,.00,.13,-.21,.06,.31,-.17,-.04,.22,-.25,
  .10,-.13,.27,-.31,.17,-.06,.02,-.19,.24,-.10,-.26,.20,.05,-.15,.29,-.01,.12,-.29,.15,-.22,
  .33,-.08,.09,-.18,.23
];
const raS5 = [
  .06,-.19,.28,-.07,.15,-.31,.22,.00,-.24,.36,-.12,.19,.04,-.38,-.53,.11,.30,-.16,.24,.55,
  -.03,.41,-.27,.09,-.11,.33,.17,-.35,.62,.02,.20,-.21,.13,-.06,.38,-.29,.08,.26,-.14,.45,
  -.01,.16,-.33,.23,-.09,.31,.05,-.42,.18,-.17,.10,.35,-.25,.03,-.13,.27,-.38,.14,.47,-.05,
  .21,-.20,.09,.32,-.30,.01,.25,-.10,.39,-.44,.12,-.15,.29,-.02,.43,-.26,.07,.19,-.36,.24,
  -.08,.34,-.18,.11,.50,-.23,.04,.28,-.11,.16,-.32,.22,-.04,.37,-.19,.09,-.40,.30,.00,-.14,
  .26,.13,-.28,.18,-.07,-.55,.33,-.21,.06,.40,-.12,.20,-.34,.08,.44,-.17,.27,-.02,-.46,.15,
  .31,-.51,-.65,.10,-.09,
  -.06,.13,-.18,.24,.04,-.11,.30,-.02,.17,-.25,.08,-.14,.21,.01,-.29,.14,.36,-.08,.06,-.19,
  .27,-.04,.11,-.23,.18,.00,-.13,.33,-.07,.09,-.31,.15,.03,-.16,.22,.07,-.10,.28,-.21,.12,
  .02,-.26,.19,-.05,.35,-.15,.10,-.01,.25,-.20,.05,.16,-.09,-.34,.13,.23,-.03,.08,-.17,.31,
  -.12,.04,.20,-.24,.11,-.06,.27,.00,-.28,.15,.09,-.18,.34,-.02,.18,-.13,.06,-.30,.22,.03,
  -.08,.26,-.21,.12,.01,-.14,.19,.39,-.10,.07,-.27,.14,-.04,.24,-.16,.10,-.37,.17,.05,-.09,
  .29,-.19,.02,.21,-.12,.08,-.25,.32,-.01,.13,-.22,.06,.18,-.07,-.32,.16,.25,-.11,.04,-.15,
  .20,-.03,.11,-.26,.09,
  -.17,.24,-.04,.30,-.26,.10,-.12,.18,-.31,.05,.27,-.08,.15,-.22,.02,.32,-.15,.08,-.28,.21,
  -.02,-.19,.25,-.10,.12,-.32,.19,.04,-.24,.29,-.06,.14,-.29,.23,-.13,.07,.31,-.20,.01,-.27,
  .17,-.09,.26,-.16,.09,-.33,.22,-.03,.13,-.23,.30,-.11,.05,-.25,.20,-.01,-.18,.28,-.07,.11,
  -.30,.16,-.14,.24,.03,-.21,.33,-.05,.18,-.26,.08,-.12,.27,-.19,.00,.22,-.29,.14,-.08,.31,
  -.16,.06,-.23,.19,-.03,.26,-.31,.10,-.11,.17,.29,-.20,.02,-.27,.15,-.06,.23,-.14,.07,-.32,
  .21,-.09,.12,-.24,.30,-.17,.04,-.28,.19,-.02,.25,-.13,.09,-.21,.28,-.07,-.30,.16,-.15,.13,
  -.25,.20,.01,-.19,.06
];
const raS6 = [
  .14,-.08,.27,-.20,.05,.35,-.15,.19,-.31,.09,-.02,.24,-.12,.40,-.26,.11,.31,-.55,.03,-.18,
  .22,-.36,.15,-.05,.29,-.22,.08,.45,-.10,.17,-.29,.01,.36,-.14,.20,-.40,.12,-.06,.26,-.19,
  .07,.33,-.24,.16,-.04,-.69,.23,-.13,-.68,.10,-.33,.28,.02,-.17,.39,-.09,.18,-.27,.06,.30,
  -.11,.21,-.38,.13,.04,.25,-.20,.09,.34,.58,-.03,.17,-.30,.27,.56,-.16,.11,.37,-.07,.20,
  -.25,.08,.32,-.12,.19,-.41,.03,.29,-.21,.14,.42,-.09,-.34,.24,.00,.16,-.28,.35,-.15,.07,
  -.77,.22,-.54,-.05,.31,-.19,.10,.27,-.37,.13,.01,.43,-.23,.18,-.08,.38,-.43,.12,.25,-.16,
  .06,-.31,.21,-.02,.28,
  .07,-.15,.20,-.04,.29,-.22,.11,.02,-.10,.24,-.18,.05,.15,-.28,.09,.33,-.06,.18,-.13,.01,
  .26,-.20,.12,-.01,-.33,.17,.06,-.09,.30,-.16,.10,.22,-.25,.03,-.07,.19,-.12,.38,.04,-.21,
  .14,-.03,.27,-.17,.08,-.36,.21,.00,-.11,.16,-.27,.12,.31,-.05,.19,-.14,.06,.24,-.23,.02,
  .35,-.08,.13,-.19,.25,.05,-.30,.10,-.02,.20,-.12,.28,-.24,.08,.16,-.06,.41,-.16,.03,-.26,
  .18,.09,-.04,.23,-.20,.13,-.09,.32,-.14,.04,.21,-.31,.11,.00,.27,-.10,.15,-.22,.07,-.05,
  .34,-.17,.19,-.28,.01,.12,-.08,.25,-.13,.06,-.19,.30,.03,-.24,.14,-.02,.22,-.35,.10,.17,
  -.07,.26,-.15,.05,-.11,
  .13,-.27,.22,-.06,.31,-.16,.04,-.31,.18,-.10,.27,-.21,.08,-.02,.33,-.25,.15,-.13,.23,-.29,
  -.05,.19,-.18,.29,-.09,.11,-.32,.25,.01,-.22,.16,-.14,.30,-.26,.06,-.04,.21,-.30,.12,.27,
  -.19,.03,-.11,.32,-.24,.17,-.07,.24,-.33,.09,-.15,.28,-.01,.14,-.28,.20,-.12,.05,.30,-.20,
  .10,-.26,.22,-.08,.33,-.17,.02,-.23,.26,-.03,-.31,.15,-.10,.19,-.25,.29,.07,-.16,.12,-.29,
  .24,-.06,.17,-.21,.01,.31,-.27,.09,-.13,.21,-.09,.26,-.32,.14,-.02,.18,-.24,.28,-.14,.04,
  .32,-.18,.08,-.28,.23,-.05,.16,-.30,.11,-.11,.20,-.22,.27,-.04,.13,-.26,.06,.30,-.17,.02,
  -.23,.25,-.12,.09,-.20
];

// Model curves as [HJD-2460000, value] pairs
const photModel = [
  [1638,21.000],[1700,20.9995],[1760,20.999],[1820,20.998],[1850,20.996],[1870,20.993],
  [1886,20.990],[1900,20.985],[1910,20.977],[1920,20.966],[1928,20.950],[1935,20.932],
  [1941.5,20.911],[1946,20.887],[1950.5,20.859],[1955,20.830],[1958,20.805],[1961,20.780],
  [1965,20.756],[1969,20.728],[1972.5,20.705],[1976,20.684],[1980,20.673],[1984,20.684],
  [1987.5,20.705],[1991,20.728],[1995,20.756],[1999,20.780],[2002,20.805],[2005,20.830],
  [2009.5,20.859],[2014,20.887],[2018.5,20.911],[2025,20.932],[2032,20.949],[2040,20.963],
  [2050,20.974],[2060,20.981],[2074,20.988],[2090,20.992],[2110,20.995],[2140,20.997],
  [2200,20.999],[2300,21.000],[3352,21.000]
];
const decModel = [
  [1638,-0.040],[1670,-0.048],[1714,-0.058],[1760,-0.070],[1815,-0.085],[1860,-0.100],
  [1890,-0.110],[1910,-0.115],[1922,-0.116],[1930,-0.108],[1937,-0.091],[1946,-0.062],
  [1955,-0.021],[1964,0.040],[1973,0.106],[1982,0.175],[1990,0.230],[2000,0.260],
  [2011,0.269],[2023,0.256],[2036,0.233],[2048,0.212],[2060,0.192],[2085,0.163],
  [2110,0.140],[2150,0.112],[2200,0.090],[2275,0.070],[2350,0.057],[2450,0.046],
  [2550,0.038],[2650,0.032],[2750,0.028],[2850,0.025],[2950,0.022],[3050,0.020],
  [3150,0.018],[3250,0.017],[3352,0.016]
];
const raModel = [
  [1638,0.040],[1670,0.048],[1714,0.058],[1760,0.072],[1815,0.097],[1860,0.128],
  [1896,0.168],[1920,0.216],[1940,0.255],[1955,0.276],[1962,0.277],[1969,0.264],
  [1976,0.232],[1983,0.192],[1990,0.145],[1997,0.097],[2004,0.050],[2010,0.012],
  [2017,-0.025],[2030,-0.055],[2050,-0.067],[2074,-0.068],[2110,-0.064],[2176,-0.051],
  [2250,-0.042],[2350,-0.033],[2450,-0.027],[2550,-0.022],[2700,-0.017],[2850,-0.014],
  [3000,-0.012],[3150,-0.011],[3352,-0.009]
];

// Axis ticks and labels
const xTicks = [1750, 2000, 2250, 2500, 2750, 3000, 3250];
const photTicks = [20.7, 20.8, 20.9, 21.0];
const astroTicks = [-0.5, 0.0, 0.5];
const labels = {
  x: "HJD-2460000",
  phot: "W149 [mag]",
  dec: "\u0394 Dec [mas]",
  ra: "\u0394 RA [mas]",
  legendPhot: ["Photometric model", "RST mock data"],
  legendDec: ["Astrometric model (N)", "RST mock data"],
  legendRa: ["Astrometric model (E)", "RST mock data"],
  badge: "DWARF"
};

// ---------------------------------------------------------------
// Drawing
// ---------------------------------------------------------------
const SERIF = "'Liberation Serif', 'DejaVu Serif', serif";
const C_GRAY = "#808080", C_RED = "#b22222", C_CYAN = "#00ced1";
const svg = d3.select("#chart");
const XL = 230, XR = 2023.6;
const x = d3.scaleLinear().domain([1551, 3434]).range([XL, XR]);

const photSeasons = [photS1, photS2, photS3, photS4, photS5, photS6];
const decSeasons = [decS1, decS2, decS3, decS4, decS5, decS6];
const raSeasons = [raS1, raS2, raS3, raS4, raS5, raS6];

function seasonPoints(seasons, days) {
  const pts = [];
  seasons.forEach((vals, s) => {
    const n = Math.min(vals.length, days.length);
    for (let i = 0; i < n; i++) pts.push([seasonStart[s] + days[i], vals[i]]);
  });
  return pts;
}

const fmtMinus = d => (d < 0 ? "\u2212" : "") + Math.abs(d).toFixed(1);
const xMinor = d3.range(1600, 3434, 50).filter(v => !xTicks.includes(v));

const panels = [
  { top: 83, bottom: 564, domain: [21.027, 20.656], major: photTicks,
    minor: d3.range(0, 19).map(i => +(20.66 + i * 0.02).toFixed(2)),
    fmt: d => d.toFixed(1), label: labels.phot, labelX: 89,
    pts: seasonPoints(photSeasons, photDays), model: photModel, color: C_GRAY,
    lineColor: "#000", lineW: 5, showX: false },
  { top: 590, bottom: 1071, domain: [-0.833, 0.833], major: astroTicks,
    minor: d3.range(-8, 9).map(i => +(i * 0.1).toFixed(1)),
    fmt: fmtMinus, label: labels.dec, labelX: 75,
    pts: seasonPoints(decSeasons, seasonDays), model: decModel, color: C_RED,
    lineColor: C_RED, lineW: 4.5, showX: false },
  { top: 1096, bottom: 1579, domain: [-0.854, 0.874], major: astroTicks,
    minor: d3.range(-8, 9).map(i => +(i * 0.1).toFixed(1)),
    fmt: fmtMinus, label: labels.ra, labelX: 75,
    pts: seasonPoints(raSeasons, seasonDays), model: raModel, color: C_CYAN,
    lineColor: C_CYAN, lineW: 4.5, showX: true }
];

function styleAxis(sel) {
  sel.select(".domain").remove();
  sel.selectAll("line").attr("stroke", "#000").attr("stroke-width", 2.6);
  sel.selectAll("text").attr("font-family", SERIF).attr("font-size", 55).attr("fill", "#000");
}

function drawDots(g, pts, y, color) {
  g.selectAll("circle.pt").data(pts).join("circle")
    .attr("class", "pt")
    .attr("cx", d => x(d[0])).attr("cy", d => y(d[1])).attr("r", 5.3)
    .attr("fill", color).attr("fill-opacity", 0.5)
    .attr("stroke", color).attr("stroke-opacity", 0.5).attr("stroke-width", 1.8);
}

panels.forEach((p, k) => {
  const y = d3.scaleLinear().domain(p.domain).range([p.bottom, p.top]);
  const g = svg.append("g");

  const clipId = "clip" + k;
  svg.append("clipPath").attr("id", clipId).append("rect")
    .attr("x", XL).attr("y", p.top).attr("width", XR - XL).attr("height", p.bottom - p.top);
  const plot = g.append("g").attr("clip-path", `url(#${clipId})`);

  drawDots(plot, p.pts, y, p.color);

  const line = d3.line().x(d => x(d[0])).y(d => y(d[1])).curve(d3.curveMonotoneX);
  plot.append("path").datum(p.model).attr("d", line)
    .attr("fill", "none").attr("stroke", p.lineColor).attr("stroke-width", p.lineW)
    .attr("stroke-linejoin", "round").attr("stroke-linecap", "round");

  // y ticks on both sides, pointing inward
  g.append("g").attr("transform", `translate(${XL},0)`)
    .call(d3.axisLeft(y).tickValues(p.major).tickSize(-28).tickPadding(17).tickFormat(p.fmt))
    .call(styleAxis);
  g.append("g").attr("transform", `translate(${XL},0)`)
    .call(d3.axisLeft(y).tickValues(p.minor).tickSize(-14).tickFormat(""))
    .call(styleAxis);
  g.append("g").attr("transform", `translate(${XR},0)`)
    .call(d3.axisRight(y).tickValues(p.major).tickSize(-28).tickFormat(""))
    .call(styleAxis);
  g.append("g").attr("transform", `translate(${XR},0)`)
    .call(d3.axisRight(y).tickValues(p.minor).tickSize(-14).tickFormat(""))
    .call(styleAxis);

  // x ticks on top and bottom, pointing inward
  g.append("g").attr("transform", `translate(0,${p.top})`)
    .call(d3.axisTop(x).tickValues(xTicks).tickSize(-28).tickFormat(""))
    .call(styleAxis);
  g.append("g").attr("transform", `translate(0,${p.top})`)
    .call(d3.axisTop(x).tickValues(xMinor).tickSize(-14).tickFormat(""))
    .call(styleAxis);
  g.append("g").attr("transform", `translate(0,${p.bottom})`)
    .call(d3.axisBottom(x).tickValues(xTicks).tickSize(-28).tickPadding(16)
      .tickFormat(p.showX ? d3.format("d") : ""))
    .call(styleAxis);
  g.append("g").attr("transform", `translate(0,${p.bottom})`)
    .call(d3.axisBottom(x).tickValues(xMinor).tickSize(-14).tickFormat(""))
    .call(styleAxis);

  // frame
  g.append("rect").attr("x", XL).attr("y", p.top)
    .attr("width", XR - XL).attr("height", p.bottom - p.top)
    .attr("fill", "none").attr("stroke", "#000").attr("stroke-width", 3);

  // y label
  g.append("text")
    .attr("transform", `translate(${p.labelX},${(p.top + p.bottom) / 2}) rotate(-90)`)
    .attr("text-anchor", "middle").attr("font-family", SERIF).attr("font-size", 57)
    .text(p.label);
});

// x label
svg.append("text").attr("x", (XL + XR) / 2).attr("y", 1691)
  .attr("text-anchor", "middle").attr("font-family", SERIF).attr("font-size", 57)
  .text(labels.x);

// ---------------------------------------------------------------
// Legends
// ---------------------------------------------------------------
function legend(o) {
  const g = svg.append("g");
  g.append("rect").attr("x", o.x).attr("y", o.y).attr("width", o.w).attr("height", o.h)
    .attr("rx", 9).attr("fill", "#fff").attr("fill-opacity", 0.85)
    .attr("stroke", "#cccccc").attr("stroke-width", 3);
  g.append("line").attr("x1", o.lx1).attr("x2", o.lx2).attr("y1", o.ly).attr("y2", o.ly)
    .attr("stroke", o.lineColor).attr("stroke-width", o.lineW);
  g.selectAll("circle").data(o.dots).join("circle")
    .attr("cx", d => d[0]).attr("cy", d => d[1]).attr("r", 5.3)
    .attr("fill", o.color).attr("fill-opacity", 0.5)
    .attr("stroke", o.color).attr("stroke-opacity", 0.5).attr("stroke-width", 1.8);
  g.selectAll("text").data(o.texts).join("text")
    .attr("x", o.tx).attr("y", (d, i) => o.ty[i])
    .attr("font-family", SERIF).attr("font-size", o.fs).text(d => d);
}

legend({ x: 1411, y: 108, w: 589, h: 160, lx1: 1429, lx2: 1532, ly: 149.5,
  lineColor: "#000", lineW: 5, color: C_GRAY,
  dots: [[1446.6, 226], [1481, 221.7], [1515.7, 227.7]],
  texts: labels.legendPhot, tx: 1571, ty: [165, 237], fs: 53 });

[[panels[1], labels.legendDec, C_RED], [panels[2], labels.legendRa, C_CYAN]].forEach(([p, txt, c]) => {
  const t = p.top;
  legend({ x: 841, y: t + 21.5, w: 573, h: 140.5, lx1: 855, lx2: 947, ly: t + 56.7,
    lineColor: c, lineW: 4.5, color: c,
    dots: [[872, t + 126], [900, t + 121.7], [930, t + 127.3]],
    texts: txt, tx: 977, ty: [t + 71.7, t + 133.3], fs: 45 });
});

// ---------------------------------------------------------------
// Lens mass annotation
// ---------------------------------------------------------------
const ann = svg.append("g").attr("fill", "#000");
ann.append("text").attr("x", 887).attr("y", 340).attr("text-anchor", "middle")
  .attr("font-family", "'DejaVu Serif', serif").attr("font-size", 96).text("\u223C");
ann.append("text").attr("x", 951).attr("y", 337)
  .attr("font-family", SERIF).attr("font-size", 95).text("0.6");
ann.append("text").attr("x", 1074).attr("y", 337)
  .attr("font-family", SERIF).attr("font-size", 95).attr("font-style", "italic")
  .attr("textLength", 98).attr("lengthAdjust", "spacingAndGlyphs").text("M");
ann.append("text").attr("x", 1196).attr("y", 333)
  .attr("text-anchor", "middle").attr("dominant-baseline", "central")
  .attr("font-family", "'DejaVu Sans', sans-serif").attr("font-size", 86).text("\u2299");

// ---------------------------------------------------------------
// Category badge
// ---------------------------------------------------------------
const badge = svg.append("g");
badge.append("rect").attr("x", 825).attr("y", 13).attr("width", 427).attr("height", 167)
  .attr("rx", 50).attr("fill", "#a1524c");
badge.append("text").attr("x", 1040).attr("y", 120).attr("text-anchor", "middle")
  .attr("font-family", "'Noto Sans', 'Open Sans', sans-serif").attr("font-weight", 500)
  .attr("font-size", 61).attr("letter-spacing", 2).attr("fill", "#fff")
  .text(labels.badge);
</script>
</body>
</html>
